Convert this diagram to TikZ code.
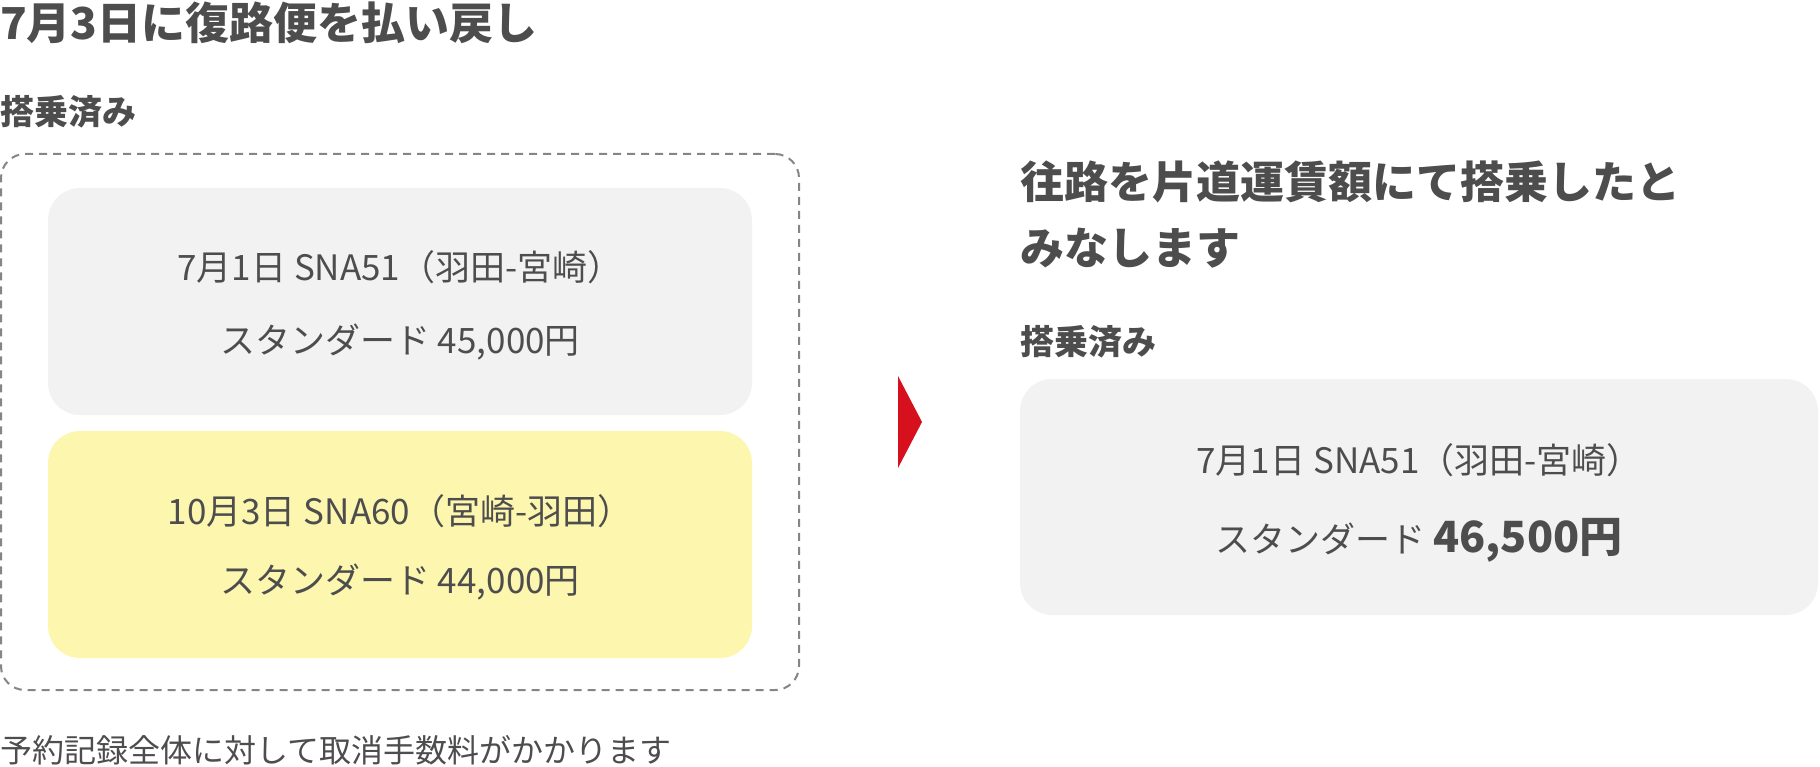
\documentclass[tikz,border=0pt]{standalone}
\usepackage{fontspec}
\setmainfont{Noto Sans CJK JP}
\definecolor{ink}{HTML}{4D4D4D}
\definecolor{cardgray}{HTML}{F2F2F2}
\definecolor{cardyellow}{HTML}{FCF6AE}
\definecolor{arrowred}{HTML}{D7101E}
\definecolor{dashgray}{HTML}{858585}
\begin{document}
\begin{tikzpicture}[x=1pt, y=-1pt,
  txt/.style={text=ink, inner sep=0pt, font=\fontsize{35}{41}\selectfont},
  head/.style={text=ink, inner sep=0pt, anchor=west, font=\bfseries\fontsize{34}{40}\selectfont},
  card/.style={rounded corners=32pt, inner sep=0pt, minimum width=704pt, minimum height=227pt}]
% Refund of the return flight
\useasboundingbox (0,0) rectangle (1820,767);
\node[head, font=\bfseries\fontsize{44}{50}\selectfont] (title) at (0,23) {7月3日に復路便を払い戻し};
\node[head] (usedL) at (0,112) {搭乗済み};
\node[draw=dashgray, line width=2pt, dash pattern=on 8pt off 6pt, rounded corners=24pt,
  minimum width=798pt, minimum height=536pt] (frame) at (400,422) {};
\node[card, fill=cardgray] (outL) at (400,301.5) {};
\node[card, fill=cardyellow] (backL) at (400,544.5) {};
\node[txt] (outroute) at (400,267) {7月1日 SNA51（羽田-宮崎）};
\node[txt] (outfare) at (400,342) {スタンダード 45,000円};
\node[txt] (backroute) at (400,511) {10月3日 SNA60（宮崎-羽田）};
\node[txt] (backfare) at (400,582) {スタンダード 44,000円};
\node[txt, anchor=west, font=\fontsize{32}{38}\selectfont] (fee) at (0,750) {予約記録全体に対して取消手数料がかかります};
% arrow head
\fill[arrowred] (898,376) -- (922,422) -- (898,468) -- cycle;
% Result: outbound at one-way fare
\node[head, font=\bfseries\fontsize{44}{66}\selectfont, align=left] (claim) at (1020,215) {往路を片道運賃額にて搭乗したと\\みなします};
\node[head] (usedR) at (1020,342) {搭乗済み};
\node[card, fill=cardgray, minimum width=798pt, minimum height=236pt] (outR) at (1419,497) {};
\node[txt] (newroute) at (1419,460) {7月1日 SNA51（羽田-宮崎）};
\node[txt] (newfare) at (1419,540) {スタンダード {\bfseries\fontsize{43}{49}\selectfont 46,500円}};
\end{tikzpicture}
\end{document}
